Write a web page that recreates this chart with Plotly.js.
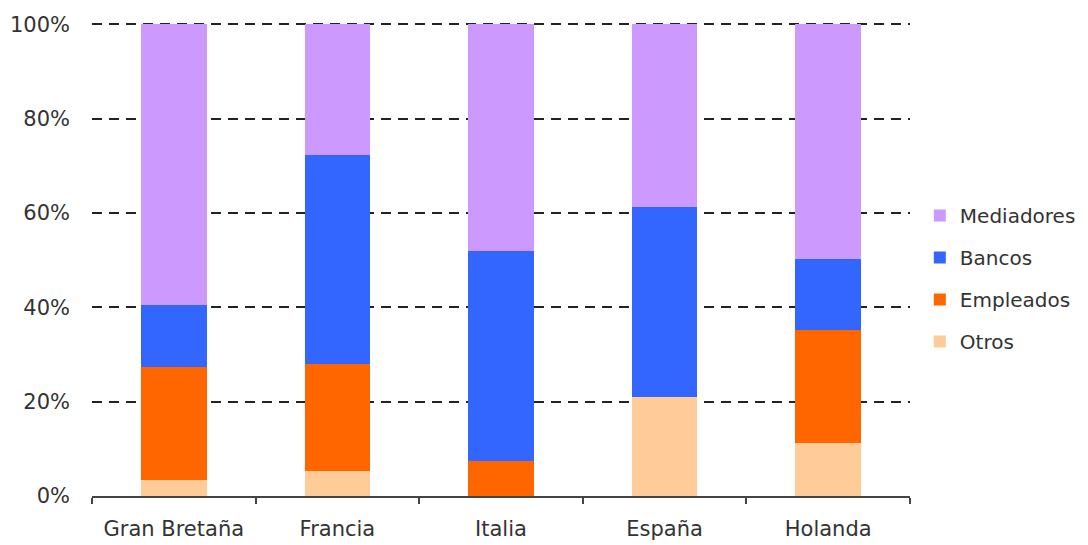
<!DOCTYPE html>
<html>
<head>
<meta charset="utf-8">
<script src="https://cdn.plot.ly/plotly-3.0.1.min.js"></script>
<style>
  html, body { margin: 0; padding: 0; background: #fff; }
  #chart { width: 1088px; height: 545px; }
</style>
</head>
<body>
<div id="chart"></div>
<script>
// Distribution by channel, % of total per country
const paises = ['Gran Bretaña', 'Francia', 'Italia', 'España', 'Holanda'];
const otros = [3.3, 5.3, 0, 20.9, 11.3];
const empleados = [24.1, 22.6, 7.5, 0, 23.9];
const bancos = [13.0, 44.4, 44.5, 40.3, 15.0];
const mediadores = [59.6, 27.7, 48.0, 38.8, 49.8];
const yTicks = [0, 20, 40, 60, 80, 100];

// stacked bottom to top; legend lists them top to bottom
const series = [
  { name: 'Otros', y: otros, color: '#ffcc99', rank: 4 },
  { name: 'Empleados', y: empleados, color: '#ff6600', rank: 3 },
  { name: 'Bancos', y: bancos, color: '#3366ff', rank: 2 },
  { name: 'Mediadores', y: mediadores, color: '#cc99ff', rank: 1 }
];

const traces = series.map(s => ({
  type: 'bar',
  name: s.name,
  x: paises,
  y: s.y,
  legendgroup: s.name,
  legendrank: s.rank,
  marker: { color: s.color, line: { width: 0 } },
  hoverinfo: 'x+y+name'
}));

const axisFont = { family: 'DejaVu Sans, Verdana, sans-serif', size: 21, color: '#333333' };
const legendFont = { family: 'DejaVu Sans, Verdana, sans-serif', size: 20, color: '#333333' };

const layout = {
  width: 1088,
  height: 545,
  margin: { l: 92, r: 178, t: 23, b: 49, autoexpand: false },
  barmode: 'stack',
  bargap: 0.6,
  paper_bgcolor: '#ffffff',
  plot_bgcolor: '#ffffff',
  font: axisFont,
  showlegend: true,
  legend: {
    x: 1.012, xanchor: 'left',
    y: 0.46, yanchor: 'middle',
    traceorder: 'grouped',
    tracegroupgap: 13,
    font: legendFont,
    itemwidth: 30
  },
  xaxis: {
    type: 'category',
    showline: true,
    linecolor: '#444444',
    linewidth: 2,
    ticks: 'outside',
    tickson: 'boundaries',
    ticklen: 6,
    tickwidth: 2,
    tickcolor: '#444444',
    showgrid: false,
    zeroline: false,
    tickfont: axisFont,
    ticklabelstandoff: 13,
    fixedrange: true
  },
  yaxis: {
    range: [0, 100.3],
    tickvals: yTicks,
    ticktext: yTicks.map(v => v + '%'),
    showline: false,
    showgrid: true,
    gridcolor: '#222222',
    gridwidth: 2,
    griddash: '10px,7px',
    zeroline: false,
    ticks: '',
    tickfont: axisFont,
    ticklabelstandoff: 21,
    fixedrange: true
  }
};

Plotly.newPlot('chart', traces, layout, { displayModeBar: false, staticPlot: true });
</script>
</body>
</html>
